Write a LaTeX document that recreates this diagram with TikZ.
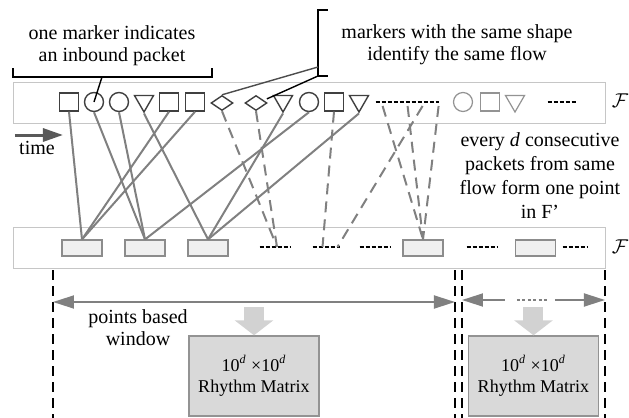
\documentclass[tikz,border=0pt]{standalone}
\usepackage{fontspec}
\setmainfont{Liberation Serif}
\usepackage{amsmath, amssymb}
\usetikzlibrary{arrows.meta, positioning, shapes.geometric, calc}

\begin{document}
\begin{tikzpicture}[
    x=0.5pt, y=-0.5pt,
    font=\fontsize{10}{11}\selectfont,
    % Styles
    band/.style={draw=gray!45, fill=white, minimum width=296pt, minimum height=20.5pt, inner sep=0pt},
    marker/.style={draw=black!75, line width=0.7pt, inner sep=0pt},
    sqmark/.style={marker, rectangle, minimum width=9.5pt, minimum height=9pt},
    cimark/.style={marker, circle, minimum size=9.5pt},
    trmark/.style={marker, regular polygon, regular polygon sides=3, shape border rotate=180, minimum size=11pt},
    dimark/.style={marker, diamond, minimum width=11pt, minimum height=7.5pt},
    later/.style={draw=gray!85, line width=0.6pt},
    point/.style={draw=gray!90, fill=gray!12, line width=0.6pt, minimum width=20pt, minimum height=8pt, inner sep=0pt},
    gap/.style={inner sep=0pt, minimum height=1pt, minimum width=#1},
    gapline/.style={draw=black, line width=1pt, dash pattern=on 2pt off 1pt},
    link/.style={draw=gray, line width=1pt},
    dlink/.style={link, dash pattern=on 5.5pt off 3.5pt},
    brace/.style={draw=black, line width=0.7pt},
    winline/.style={draw=black, line width=0.8pt, dash pattern=on 5pt off 3pt},
    winarrow/.style={draw=gray, line width=0.9pt, >={Triangle[length=10.5pt, width=6.5pt]}},
    timearrow/.style={draw=black!65, line width=1.5pt, -{Triangle[length=10pt, width=6.5pt]}},
    blockarrow/.style={color=gray!35, line width=10pt, -{Triangle[length=7.5pt, width=19pt]}},
    matrixbox/.style={draw=gray!85, fill=gray!30, line width=0.7pt, minimum width=65pt, minimum height=40pt,
                      align=center, inner sep=0pt, font=\fontsize{9}{10.5}\selectfont},
    note/.style={align=center}
]
    \useasboundingbox (0,0) rectangle (629,418);

    % Packet stream F (top) and point stream F' (bottom)
    \node[band] (topband) at (309,102.5) {};
    \node[band] (botband) at (309,247.5) {};
    \node (ftop) at (620,101) {$\mathcal{F}$};
    \node (fbot) at (620,247) {$\mathcal{F}$};

    % Inbound packets
    \node[sqmark] (sq1) at (69,102) {};
    \node[cimark] (ci1) at (94,102) {};
    \node[cimark] (ci2) at (119,102) {};
    \node[trmark] (tr1) at (144,101) {};
    \node[sqmark] (sq2) at (169,102) {};
    \node[sqmark] (sq3) at (195,102) {};
    \node[dimark] (di1) at (222,103) {};
    \node[dimark] (di2) at (256,103) {};
    \node[trmark] (tr2) at (283,101) {};
    \node[cimark] (ci3) at (309,102) {};
    \node[sqmark] (sq4) at (334,102) {};
    \node[trmark] (tr3) at (359,101) {};
    \node[gap=31.5pt] (tg1) at (407.5,102) {};
    \node[cimark, later] (ci4) at (463,102) {};
    \node[sqmark, later] (sq5) at (490,102) {};
    \node[trmark, later] (tr4) at (515,101) {};
    \node[gap=14.5pt] (tg2) at (562.5,102) {};

    % Points
    \node[point] (pt1) at (82,248) {};
    \node[point] (pt2) at (145,248) {};
    \node[point] (pt3) at (208,248) {};
    \node[gap=15pt] (g1) at (275,247) {};
    \node[gap=13.5pt] (g2) at (326.5,247) {};
    \node[gap=15pt] (g3) at (375,247) {};
    \node[point] (pt4) at (423,248) {};
    \node[gap=15pt] (g4) at (482,247) {};
    \node[point] (pt5) at (535.5,248) {};
    \node[gap=12.5pt] (g5) at (575.5,247) {};

    \foreach \g in {tg1,tg2,g1,g2,g3,g4,g5}
        \draw[gapline] (\g.west) -- (\g.east);

    % Packets to points
    \draw[link] (sq1.south) -- (pt1.north);
    \draw[link] (sq2.south) -- (pt1.north);
    \draw[link] (sq3.south) -- (pt1.north);
    \draw[link] (ci1.south) -- (pt2.north);
    \draw[link] (ci2.south) -- (pt2.north);
    \draw[link] (ci3.south) -- (pt2.north);
    \draw[link] (tr1.south) -- (pt3.north);
    \draw[link] (tr2.south) -- (pt3.north);
    \draw[link] (tr3.south) -- (pt3.north);
    \draw[dlink] (di1.south) -- ([xshift=1pt]g1.center);
    \draw[dlink] (di2.south) -- ([xshift=1pt]g1.center);
    \draw[dlink] (sq4.south) -- ([xshift=-2pt]g2.center);
    \draw[dlink] ($(tg1.west)+(7,4)$) -- (pt4.north);
    \draw[dlink] ($(tg1.west)+(32,4)$) -- (pt4.north);
    \draw[dlink] ($(tg1.west)+(47,4)$) -- ([xshift=5.5pt]g2.center);
    \draw[dlink] ($(tg1.west)+(63,4)$) -- (pt4.north);

    % Annotations
    \node[note] (onemark) at (112,46) {one marker indicates\\an inbound packet};
    \coordinate (b1l) at (13,68);
    \coordinate (b1m) at (102,77);
    \coordinate (b1r) at (212,68);
    \draw[brace] (b1l) |- (b1m) -| (b1r);
    \draw[brace] (b1m) -- (ci1.center);

    \node[note] (sameshape) at (457,45) {markers with the same shape\\identify the same flow};
    \coordinate (b2t) at (328,10);
    \coordinate (b2b) at (328,76);
    \coordinate (b2a) at (318,67);
    \coordinate (b2c) at (318,76);
    \draw[brace] (b2t) -- ++(-10,0) |- (b2b);
    \draw[brace, draw=black!70] (b2a) -- (di1.north);
    \draw[brace] (b2c) -- ([xshift=2.5pt]di2.north east);

    \coordinate (tstart) at (15,135);
    \coordinate (tend) at (63,135);
    \draw[timearrow] (tstart) -- (tend);
    \node (time) at (37,148) {time};

    \node[note, font=\fontsize{10}{12}\selectfont] (everyd) at (540,176)
        {every \textit{d} consecutive\\packets from same\\flow form one point\\in F’};

    % Windows
    \foreach \x/\n in {53/wl, 455/wm1, 462/wm2, 605/wr} {
        \coordinate (\n) at (\x,300);
        \draw[winline] (\x,270) -- (\x,418);
    }
    \coordinate (wa) at (505,300);
    \coordinate (wb) at (555,300);
    \draw[winarrow, <->] ([yshift=-1pt]wl) -- ([yshift=-1pt]wm1);
    \draw[winarrow, <-] (wm2) -- (wa);
    \draw[winarrow, ->] (wb) -- (wr);
    \draw[gray, line width=0.9pt, dash pattern=on 1.5pt off 1.2pt, shorten <=6pt, shorten >=3.5pt] (wa) -- (wb);

    \node[note] (pbw) at (138,328) {points based\\window};

    % Rhythm matrices
    \node[matrixbox] (lbox) at (254,376) {10\textsuperscript{\textit{d}} ×10\textsuperscript{\textit{d}}\\Rhythm Matrix};
    \node[matrixbox] (rbox) at (533.5,376) {10\textsuperscript{\textit{d}} ×10\textsuperscript{\textit{d}}\\Rhythm Matrix};
    \draw[blockarrow] ($(lbox.north)+(0,-28)$) -- (lbox.north);
    \draw[blockarrow] ($(rbox.north)+(0,-28)$) -- (rbox.north);
\end{tikzpicture}
\end{document}
